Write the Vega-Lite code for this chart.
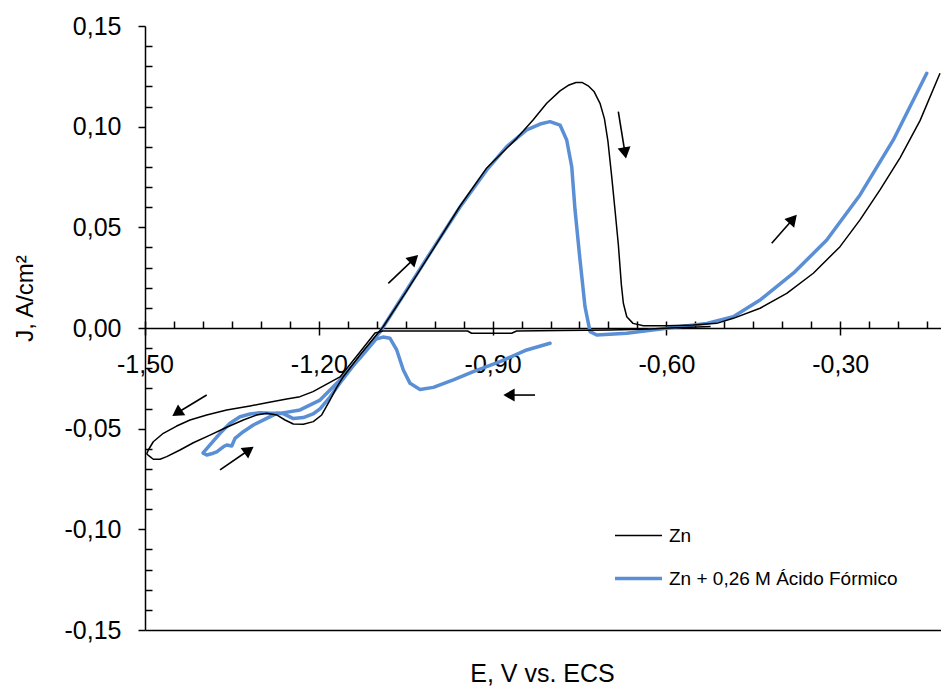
{
  "$schema": "https://vega.github.io/schema/vega-lite/v6.json",
  "width": 796,
  "height": 604,
  "autosize": {"type": "none"},
  "padding": {"left": 145, "top": 26, "right": 0, "bottom": 59},
  "background": "white",
  "config": {
    "view": {"stroke": null},
    "font": "Liberation Sans",
    "axis": {"domainColor": "black", "tickColor": "black", "labelColor": "black", "titleColor": "black", "labelFont": "Liberation Sans", "titleFont": "Liberation Sans", "grid": false, "titleFontWeight": "normal", "domainWidth": 1.5, "tickWidth": 1.5}
  },
  "datasets": {
    "cv": [
      {"series":"Zn","seg":"A","i":1,"E":-1.4971,"J":-0.0626},
      {"series":"Zn","seg":"A","i":2,"E":-1.4914,"J":-0.0639},
      {"series":"Zn","seg":"A","i":3,"E":-1.4857,"J":-0.0652},
      {"series":"Zn","seg":"A","i":4,"E":-1.4741,"J":-0.0652},
      {"series":"Zn","seg":"A","i":5,"E":-1.4625,"J":-0.0639},
      {"series":"Zn","seg":"A","i":6,"E":-1.4396,"J":-0.0606},
      {"series":"Zn","seg":"A","i":7,"E":-1.4166,"J":-0.0570},
      {"series":"Zn","seg":"A","i":8,"E":-1.3878,"J":-0.0532},
      {"series":"Zn","seg":"A","i":9,"E":-1.3590,"J":-0.0493},
      {"series":"Zn","seg":"A","i":10,"E":-1.3303,"J":-0.0457},
      {"series":"Zn","seg":"A","i":11,"E":-1.3072,"J":-0.0432},
      {"series":"Zn","seg":"A","i":12,"E":-1.2899,"J":-0.0424},
      {"series":"Zn","seg":"A","i":13,"E":-1.2727,"J":-0.0432},
      {"series":"Zn","seg":"A","i":14,"E":-1.2583,"J":-0.0457},
      {"series":"Zn","seg":"A","i":15,"E":-1.2440,"J":-0.0477},
      {"series":"Zn","seg":"A","i":16,"E":-1.2267,"J":-0.0478},
      {"series":"Zn","seg":"A","i":17,"E":-1.2095,"J":-0.0465},
      {"series":"Zn","seg":"A","i":18,"E":-1.1950,"J":-0.0432},
      {"series":"Zn","seg":"A","i":19,"E":-1.1807,"J":-0.0358},
      {"series":"Zn","seg":"A","i":20,"E":-1.1691,"J":-0.0295},
      {"series":"Zn","seg":"A","i":21,"E":-1.1577,"J":-0.0242},
      {"series":"Zn","seg":"A","i":22,"E":-1.1289,"J":-0.0134},
      {"series":"Zn","seg":"A","i":23,"E":-1.0892,"J":0.0005},
      {"series":"Zn","seg":"A","i":24,"E":-1.0483,"J":0.0184},
      {"series":"Zn","seg":"A","i":25,"E":-1.0023,"J":0.0393},
      {"series":"Zn","seg":"A","i":26,"E":-0.9562,"J":0.0606},
      {"series":"Zn","seg":"A","i":27,"E":-0.9101,"J":0.0795},
      {"series":"Zn","seg":"A","i":28,"E":-0.8583,"J":0.0942},
      {"series":"Zn","seg":"A","i":29,"E":-0.8302,"J":0.1033},
      {"series":"Zn","seg":"A","i":30,"E":-0.8066,"J":0.1116},
      {"series":"Zn","seg":"A","i":31,"E":-0.7836,"J":0.1178},
      {"series":"Zn","seg":"A","i":32,"E":-0.7680,"J":0.1207},
      {"series":"Zn","seg":"A","i":33,"E":-0.7560,"J":0.1219},
      {"series":"Zn","seg":"A","i":34,"E":-0.7450,"J":0.1219},
      {"series":"Zn","seg":"A","i":35,"E":-0.7350,"J":0.1203},
      {"series":"Zn","seg":"A","i":36,"E":-0.7250,"J":0.1175},
      {"series":"Zn","seg":"A","i":37,"E":-0.7146,"J":0.1116},
      {"series":"Zn","seg":"A","i":38,"E":-0.7070,"J":0.1040},
      {"series":"Zn","seg":"A","i":39,"E":-0.7010,"J":0.0930},
      {"series":"Zn","seg":"A","i":40,"E":-0.6944,"J":0.0752},
      {"series":"Zn","seg":"A","i":41,"E":-0.6887,"J":0.0586},
      {"series":"Zn","seg":"A","i":42,"E":-0.6829,"J":0.0412},
      {"series":"Zn","seg":"A","i":43,"E":-0.6777,"J":0.0214},
      {"series":"Zn","seg":"A","i":44,"E":-0.6743,"J":0.0123},
      {"series":"Zn","seg":"A","i":45,"E":-0.6684,"J":0.0056},
      {"series":"Zn","seg":"A","i":46,"E":-0.6576,"J":0.0023},
      {"series":"Zn","seg":"A","i":47,"E":-0.6398,"J":0.0011},
      {"series":"Zn","seg":"A","i":48,"E":-0.5994,"J":0.0011},
      {"series":"Zn","seg":"A","i":49,"E":-0.5535,"J":0.0015},
      {"series":"Zn","seg":"A","i":50,"E":-0.5131,"J":0.0023},
      {"series":"Zn","seg":"A","i":51,"E":-0.4845,"J":0.0048},
      {"series":"Zn","seg":"A","i":52,"E":-0.4384,"J":0.0098},
      {"series":"Zn","seg":"A","i":53,"E":-0.3923,"J":0.0172},
      {"series":"Zn","seg":"A","i":54,"E":-0.3464,"J":0.0272},
      {"series":"Zn","seg":"A","i":55,"E":-0.3003,"J":0.0404},
      {"series":"Zn","seg":"A","i":56,"E":-0.2658,"J":0.0537},
      {"series":"Zn","seg":"A","i":57,"E":-0.2313,"J":0.0686},
      {"series":"Zn","seg":"A","i":58,"E":-0.1967,"J":0.0845},
      {"series":"Zn","seg":"A","i":59,"E":-0.1622,"J":0.1030},
      {"series":"Zn","seg":"A","i":60,"E":-0.1277,"J":0.1265},
      {"series":"Zn","seg":"B","i":1,"E":-0.5237,"J":0.0007},
      {"series":"Zn","seg":"B","i":2,"E":-0.5927,"J":0.0000},
      {"series":"Zn","seg":"B","i":3,"E":-0.6272,"J":-0.0005},
      {"series":"Zn","seg":"B","i":4,"E":-0.6963,"J":-0.0010},
      {"series":"Zn","seg":"B","i":5,"E":-0.7809,"J":-0.0012},
      {"series":"Zn","seg":"B","i":6,"E":-0.8586,"J":-0.0015},
      {"series":"Zn","seg":"B","i":7,"E":-0.8672,"J":-0.0026},
      {"series":"Zn","seg":"B","i":8,"E":-0.9363,"J":-0.0026},
      {"series":"Zn","seg":"B","i":9,"E":-0.9432,"J":-0.0015},
      {"series":"Zn","seg":"B","i":10,"E":-1.0053,"J":-0.0015},
      {"series":"Zn","seg":"B","i":11,"E":-1.0892,"J":-0.0015},
      {"series":"Zn","seg":"B","i":12,"E":-1.1030,"J":-0.0025},
      {"series":"Zn","seg":"B","i":13,"E":-1.1289,"J":-0.0119},
      {"series":"Zn","seg":"B","i":14,"E":-1.1634,"J":-0.0243},
      {"series":"Zn","seg":"B","i":15,"E":-1.2100,"J":-0.0316},
      {"series":"Zn","seg":"B","i":16,"E":-1.2324,"J":-0.0341},
      {"series":"Zn","seg":"B","i":17,"E":-1.2554,"J":-0.0353},
      {"series":"Zn","seg":"B","i":18,"E":-1.2899,"J":-0.0371},
      {"series":"Zn","seg":"B","i":19,"E":-1.3187,"J":-0.0387},
      {"series":"Zn","seg":"B","i":20,"E":-1.3590,"J":-0.0407},
      {"series":"Zn","seg":"B","i":21,"E":-1.3935,"J":-0.0432},
      {"series":"Zn","seg":"B","i":22,"E":-1.4223,"J":-0.0457},
      {"series":"Zn","seg":"B","i":23,"E":-1.4453,"J":-0.0487},
      {"series":"Zn","seg":"B","i":24,"E":-1.4684,"J":-0.0523},
      {"series":"Zn","seg":"B","i":25,"E":-1.4857,"J":-0.0565},
      {"series":"Zn","seg":"B","i":26,"E":-1.4943,"J":-0.0606},
      {"series":"Zn","seg":"B","i":27,"E":-1.4971,"J":-0.0626},
      {"series":"Zn + 0,26 M Ácido Fórmico","seg":"C","i":1,"E":-1.3994,"J":-0.0622},
      {"series":"Zn + 0,26 M Ácido Fórmico","seg":"C","i":2,"E":-1.3935,"J":-0.0631},
      {"series":"Zn + 0,26 M Ácido Fórmico","seg":"C","i":3,"E":-1.3821,"J":-0.0622},
      {"series":"Zn + 0,26 M Ácido Fórmico","seg":"C","i":4,"E":-1.3762,"J":-0.0615},
      {"series":"Zn + 0,26 M Ácido Fórmico","seg":"C","i":5,"E":-1.3648,"J":-0.0590},
      {"series":"Zn + 0,26 M Ácido Fórmico","seg":"C","i":6,"E":-1.3590,"J":-0.0581},
      {"series":"Zn + 0,26 M Ácido Fórmico","seg":"C","i":7,"E":-1.3503,"J":-0.0586},
      {"series":"Zn + 0,26 M Ácido Fórmico","seg":"C","i":8,"E":-1.3446,"J":-0.0548},
      {"series":"Zn + 0,26 M Ácido Fórmico","seg":"C","i":9,"E":-1.3303,"J":-0.0515},
      {"series":"Zn + 0,26 M Ácido Fórmico","seg":"C","i":10,"E":-1.3130,"J":-0.0482},
      {"series":"Zn + 0,26 M Ácido Fórmico","seg":"C","i":11,"E":-1.2899,"J":-0.0449},
      {"series":"Zn + 0,26 M Ácido Fórmico","seg":"C","i":12,"E":-1.2727,"J":-0.0424},
      {"series":"Zn + 0,26 M Ácido Fórmico","seg":"C","i":13,"E":-1.2613,"J":-0.0425},
      {"series":"Zn + 0,26 M Ácido Fórmico","seg":"C","i":14,"E":-1.2440,"J":-0.0450},
      {"series":"Zn + 0,26 M Ácido Fórmico","seg":"C","i":15,"E":-1.2267,"J":-0.0445},
      {"series":"Zn + 0,26 M Ácido Fórmico","seg":"C","i":16,"E":-1.2100,"J":-0.0427},
      {"series":"Zn + 0,26 M Ácido Fórmico","seg":"C","i":17,"E":-1.1979,"J":-0.0402},
      {"series":"Zn + 0,26 M Ácido Fórmico","seg":"C","i":18,"E":-1.1807,"J":-0.0343},
      {"series":"Zn + 0,26 M Ácido Fórmico","seg":"C","i":19,"E":-1.1634,"J":-0.0273},
      {"series":"Zn + 0,26 M Ácido Fórmico","seg":"C","i":20,"E":-1.1289,"J":-0.0144},
      {"series":"Zn + 0,26 M Ácido Fórmico","seg":"C","i":21,"E":-1.0943,"J":-0.0020},
      {"series":"Zn + 0,26 M Ácido Fórmico","seg":"C","i":22,"E":-1.0483,"J":0.0189},
      {"series":"Zn + 0,26 M Ácido Fórmico","seg":"C","i":23,"E":-1.0023,"J":0.0397},
      {"series":"Zn + 0,26 M Ácido Fórmico","seg":"C","i":24,"E":-0.9562,"J":0.0601},
      {"series":"Zn + 0,26 M Ácido Fórmico","seg":"C","i":25,"E":-0.9101,"J":0.0785},
      {"series":"Zn + 0,26 M Ácido Fórmico","seg":"C","i":26,"E":-0.8756,"J":0.0901},
      {"series":"Zn + 0,26 M Ácido Fórmico","seg":"C","i":27,"E":-0.8411,"J":0.0984},
      {"series":"Zn + 0,26 M Ácido Fórmico","seg":"C","i":28,"E":-0.8181,"J":0.1013},
      {"series":"Zn + 0,26 M Ácido Fórmico","seg":"C","i":29,"E":-0.8009,"J":0.1025},
      {"series":"Zn + 0,26 M Ácido Fórmico","seg":"C","i":30,"E":-0.7836,"J":0.1008},
      {"series":"Zn + 0,26 M Ácido Fórmico","seg":"C","i":31,"E":-0.7721,"J":0.0934},
      {"series":"Zn + 0,26 M Ácido Fórmico","seg":"C","i":32,"E":-0.7634,"J":0.0801},
      {"series":"Zn + 0,26 M Ácido Fórmico","seg":"C","i":33,"E":-0.7577,"J":0.0586},
      {"series":"Zn + 0,26 M Ácido Fórmico","seg":"C","i":34,"E":-0.7491,"J":0.0338},
      {"series":"Zn + 0,26 M Ácido Fórmico","seg":"C","i":35,"E":-0.7405,"J":0.0106},
      {"series":"Zn + 0,26 M Ácido Fórmico","seg":"C","i":36,"E":-0.7318,"J":-0.0018},
      {"series":"Zn + 0,26 M Ácido Fórmico","seg":"C","i":37,"E":-0.7203,"J":-0.0035},
      {"series":"Zn + 0,26 M Ácido Fórmico","seg":"C","i":38,"E":-0.6685,"J":-0.0026},
      {"series":"Zn + 0,26 M Ácido Fórmico","seg":"C","i":39,"E":-0.5994,"J":-0.0001},
      {"series":"Zn + 0,26 M Ácido Fórmico","seg":"C","i":40,"E":-0.5304,"J":0.0023},
      {"series":"Zn + 0,26 M Ácido Fórmico","seg":"C","i":41,"E":-0.4845,"J":0.0056},
      {"series":"Zn + 0,26 M Ácido Fórmico","seg":"C","i":42,"E":-0.4384,"J":0.0139},
      {"series":"Zn + 0,26 M Ácido Fórmico","seg":"C","i":43,"E":-0.3809,"J":0.0272},
      {"series":"Zn + 0,26 M Ácido Fórmico","seg":"C","i":44,"E":-0.3232,"J":0.0437},
      {"series":"Zn + 0,26 M Ácido Fórmico","seg":"C","i":45,"E":-0.2658,"J":0.0661},
      {"series":"Zn + 0,26 M Ácido Fórmico","seg":"C","i":46,"E":-0.2083,"J":0.0934},
      {"series":"Zn + 0,26 M Ácido Fórmico","seg":"C","i":47,"E":-0.1506,"J":0.1265},
      {"series":"Zn + 0,26 M Ácido Fórmico","seg":"D","i":1,"E":-0.8009,"J":-0.0076},
      {"series":"Zn + 0,26 M Ácido Fórmico","seg":"D","i":2,"E":-0.8411,"J":-0.0109},
      {"series":"Zn + 0,26 M Ácido Fórmico","seg":"D","i":3,"E":-0.8872,"J":-0.0167},
      {"series":"Zn + 0,26 M Ácido Fórmico","seg":"D","i":4,"E":-0.9333,"J":-0.0217},
      {"series":"Zn + 0,26 M Ácido Fórmico","seg":"D","i":5,"E":-0.9678,"J":-0.0258},
      {"series":"Zn + 0,26 M Ácido Fórmico","seg":"D","i":6,"E":-1.0023,"J":-0.0295},
      {"series":"Zn + 0,26 M Ácido Fórmico","seg":"D","i":7,"E":-1.0253,"J":-0.0305},
      {"series":"Zn + 0,26 M Ácido Fórmico","seg":"D","i":8,"E":-1.0425,"J":-0.0275},
      {"series":"Zn + 0,26 M Ácido Fórmico","seg":"D","i":9,"E":-1.0541,"J":-0.0209},
      {"series":"Zn + 0,26 M Ácido Fórmico","seg":"D","i":10,"E":-1.0655,"J":-0.0109},
      {"series":"Zn + 0,26 M Ácido Fórmico","seg":"D","i":11,"E":-1.0771,"J":-0.0051},
      {"series":"Zn + 0,26 M Ácido Fórmico","seg":"D","i":12,"E":-1.0892,"J":-0.0045},
      {"series":"Zn + 0,26 M Ácido Fórmico","seg":"D","i":13,"E":-1.1012,"J":-0.0055},
      {"series":"Zn + 0,26 M Ácido Fórmico","seg":"D","i":14,"E":-1.1289,"J":-0.0149},
      {"series":"Zn + 0,26 M Ácido Fórmico","seg":"D","i":15,"E":-1.1634,"J":-0.0258},
      {"series":"Zn + 0,26 M Ácido Fórmico","seg":"D","i":16,"E":-1.1979,"J":-0.0358},
      {"series":"Zn + 0,26 M Ácido Fórmico","seg":"D","i":17,"E":-1.2324,"J":-0.0407},
      {"series":"Zn + 0,26 M Ácido Fórmico","seg":"D","i":18,"E":-1.2670,"J":-0.0424},
      {"series":"Zn + 0,26 M Ácido Fórmico","seg":"D","i":19,"E":-1.2842,"J":-0.0424},
      {"series":"Zn + 0,26 M Ácido Fórmico","seg":"D","i":20,"E":-1.3015,"J":-0.0421},
      {"series":"Zn + 0,26 M Ácido Fórmico","seg":"D","i":21,"E":-1.3187,"J":-0.0427},
      {"series":"Zn + 0,26 M Ácido Fórmico","seg":"D","i":22,"E":-1.3360,"J":-0.0441},
      {"series":"Zn + 0,26 M Ácido Fórmico","seg":"D","i":23,"E":-1.3533,"J":-0.0473},
      {"series":"Zn + 0,26 M Ácido Fórmico","seg":"D","i":24,"E":-1.3705,"J":-0.0523},
      {"series":"Zn + 0,26 M Ácido Fórmico","seg":"D","i":25,"E":-1.3878,"J":-0.0581},
      {"series":"Zn + 0,26 M Ácido Fórmico","seg":"D","i":26,"E":-1.3994,"J":-0.0619}
    ],
    "arrows": [
      {"id":1,"x":-1.3935,"y":-0.0333,"x2":-1.4448,"y2":-0.0422},
      {"id":2,"x":-1.3705,"y":-0.0705,"x2":-1.3205,"y2":-0.0606},
      {"id":3,"x":-1.0800,"y":0.0222,"x2":-1.0356,"y2":0.0343},
      {"id":4,"x":-0.6830,"y":0.1075,"x2":-0.6714,"y2":0.0869},
      {"id":5,"x":-0.4182,"y":0.0421,"x2":-0.3814,"y2":0.0541},
      {"id":6,"x":-0.8268,"y":-0.0333,"x2":-0.8717,"y2":-0.0333}
    ]
  },
  "resolve": {"axis": {"x": "independent", "y": "independent"}},
  "layer": [
    {
      "data": {"name": "cv"},
      "transform": [{"filter": "datum.series !== 'Zn'"}],
      "mark": {"type": "line", "strokeJoin": "round", "strokeCap": "round", "clip": true},
      "encoding": {
        "x": {"field": "E", "type": "quantitative",
              "scale": {"domain": [-1.5, -0.126], "nice": false, "zero": false},
              "axis": {"values": [-1.5, -1.2, -0.9, -0.6, -0.3], "offset": -302, "tickSize": 7, "labelFontSize": 25, "labelPadding": 17, "labelExpr": "replace(replace(format(datum.value, '.2f'), '.', ','), '\u2212', '-')", "labelOverlap": false, "labelFlush": false, "labelBound": false, "title": null}},
        "y": {"field": "J", "type": "quantitative",
              "scale": {"domain": [-0.15, 0.15], "nice": false, "zero": false},
              "axis": {"values": [-0.15, -0.1, -0.05, 0, 0.05, 0.1, 0.15], "tickSize": 7, "labelFontSize": 25, "labelPadding": 17, "labelExpr": "replace(replace(format(datum.value, '.2f'), '.', ','), '\u2212', '-')", "labelOverlap": false, "labelFlush": false, "labelBound": false, "title": "J, A/cm²", "titleFontSize": 24, "titleAngle": -90, "titleAlign": "center", "titleBaseline": "middle", "titleX": -120, "titleY": 272}},
        "color": {"field": "series", "type": "ordinal",
                  "scale": {"domain": ["Zn", "Zn + 0,26 M Ácido Fórmico"], "range": ["#000000", "#5a8fd6"]},
                  "legend": {"title": null, "orient": "none", "legendX": 468, "legendY": 488, "symbolType": "stroke", "symbolSize": 2209, "labelFontSize": 19, "labelFont": "Liberation Sans", "labelColor": "black", "labelOffset": 5, "labelLimit": 0, "clipHeight": 43, "rowPadding": 0, "padding": 0}},
        "strokeWidth": {"field": "series", "type": "ordinal",
                  "scale": {"domain": ["Zn", "Zn + 0,26 M Ácido Fórmico"], "range": [1.5, 3.5]},
                  "legend": {"title": null, "orient": "none", "legendX": 468, "legendY": 488, "symbolType": "stroke", "symbolSize": 2209, "labelFontSize": 19, "labelFont": "Liberation Sans", "labelColor": "black", "labelOffset": 5, "labelLimit": 0, "clipHeight": 43, "rowPadding": 0, "padding": 0}},
        "detail": {"field": "seg"},
        "order": {"field": "i", "type": "quantitative"}
      }
    },
    {
      "data": {"name": "cv"},
      "transform": [{"filter": "datum.series === 'Zn'"}],
      "mark": {"type": "line", "strokeJoin": "round", "clip": true},
      "encoding": {
        "x": {"field": "E", "type": "quantitative", "axis": null},
        "y": {"field": "J", "type": "quantitative", "axis": null},
        "color": {"field": "series", "type": "ordinal"},
        "strokeWidth": {"field": "series", "type": "ordinal"},
        "detail": {"field": "seg"},
        "order": {"field": "i", "type": "quantitative"}
      }
    },
    {
      "data": {"name": "arrows"},
      "mark": {"type": "point", "opacity": 0},
      "encoding": {
        "x": {"field": "x", "type": "quantitative",
              "axis": {"orient": "top", "offset": -302, "values": [-1.5,-1.45,-1.4,-1.35,-1.3,-1.25,-1.2,-1.15,-1.1,-1.05,-1,-0.95,-0.9,-0.85,-0.8,-0.75,-0.7,-0.65,-0.6,-0.55,-0.5,-0.45,-0.4,-0.35,-0.3,-0.25,-0.2,-0.15], "tickSize": 7, "labels": false, "domain": false, "title": null}},
        "y": {"field": "y", "type": "quantitative",
              "axis": {"orient": "right", "offset": -796, "values": [-0.14,-0.13,-0.12,-0.11,-0.09,-0.08,-0.07,-0.06,-0.04,-0.03,-0.02,-0.01,0.01,0.02,0.03,0.04,0.06,0.07,0.08,0.09,0.11,0.12,0.13,0.14], "tickSize": 7, "labels": false, "domain": false, "title": null}}
      }
    },
    {
      "data": {"name": "arrows"},
      "mark": {"type": "point", "opacity": 0},
      "encoding": {
        "x": {"field": "x", "type": "quantitative",
              "axis": {"orient": "bottom", "ticks": false, "labels": false, "domain": true, "title": "E, V vs. ECS", "titleFontSize": 25, "titleX": 397, "titleY": 43, "titleAlign": "center", "titleBaseline": "middle"}},
        "y": {"field": "y", "type": "quantitative", "axis": null}
      }
    },
    {
      "data": {"name": "arrows"},
      "mark": {"type": "rule", "color": "black", "strokeWidth": 1.6},
      "encoding": {
        "x": {"field": "x", "type": "quantitative", "axis": null},
        "y": {"field": "y", "type": "quantitative", "axis": null},
        "x2": {"field": "x2"},
        "y2": {"field": "y2"}
      }
    },
    {"data": {"name": "arrows"}, "transform": [{"filter": "datum.id === 1"}],
     "mark": {"type": "point", "shape": "triangle-up", "filled": true, "color": "black", "opacity": 1, "size": 170, "angle": 236},
     "encoding": {"x": {"field": "x2", "type": "quantitative", "axis": null}, "y": {"field": "y2", "type": "quantitative", "axis": null}}},
    {"data": {"name": "arrows"}, "transform": [{"filter": "datum.id === 2"}],
     "mark": {"type": "point", "shape": "triangle-up", "filled": true, "color": "black", "opacity": 1, "size": 170, "angle": 54.5},
     "encoding": {"x": {"field": "x2", "type": "quantitative", "axis": null}, "y": {"field": "y2", "type": "quantitative", "axis": null}}},
    {"data": {"name": "arrows"}, "transform": [{"filter": "datum.id === 3"}],
     "mark": {"type": "point", "shape": "triangle-up", "filled": true, "color": "black", "opacity": 1, "size": 170, "angle": 46.6},
     "encoding": {"x": {"field": "x2", "type": "quantitative", "axis": null}, "y": {"field": "y2", "type": "quantitative", "axis": null}}},
    {"data": {"name": "arrows"}, "transform": [{"filter": "datum.id === 4"}],
     "mark": {"type": "point", "shape": "triangle-up", "filled": true, "color": "black", "opacity": 1, "size": 170, "angle": 170},
     "encoding": {"x": {"field": "x2", "type": "quantitative", "axis": null}, "y": {"field": "y2", "type": "quantitative", "axis": null}}},
    {"data": {"name": "arrows"}, "transform": [{"filter": "datum.id === 5"}],
     "mark": {"type": "point", "shape": "triangle-up", "filled": true, "color": "black", "opacity": 1, "size": 170, "angle": 41.6},
     "encoding": {"x": {"field": "x2", "type": "quantitative", "axis": null}, "y": {"field": "y2", "type": "quantitative", "axis": null}}},
    {"data": {"name": "arrows"}, "transform": [{"filter": "datum.id === 6"}],
     "mark": {"type": "point", "shape": "triangle-up", "filled": true, "color": "black", "opacity": 1, "size": 170, "angle": 270},
     "encoding": {"x": {"field": "x2", "type": "quantitative", "axis": null}, "y": {"field": "y2", "type": "quantitative", "axis": null}}}
  ]
}
